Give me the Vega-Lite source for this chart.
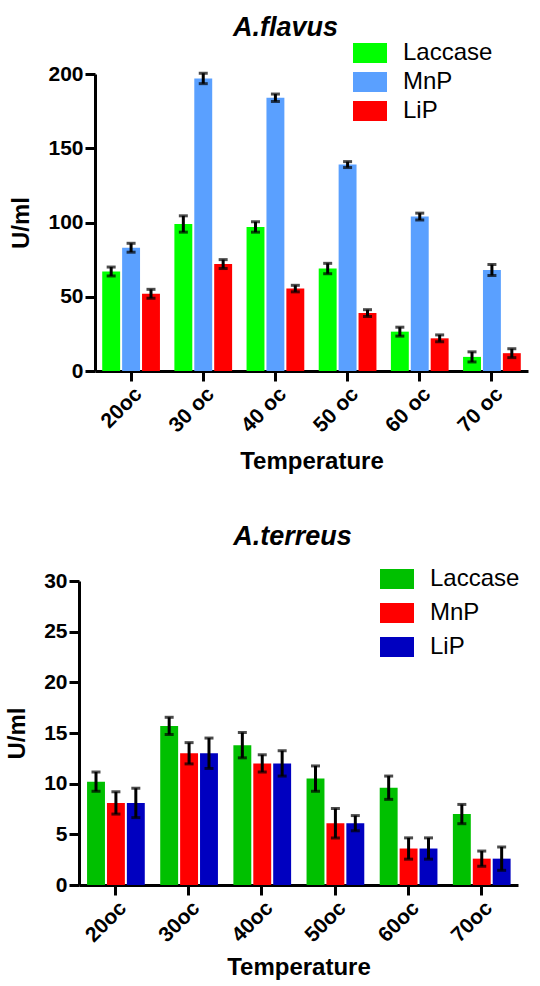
{
  "$schema": "https://vega.github.io/schema/vega-lite/v6.json",
  "padding": {"left": 5, "top": 14, "right": 5, "bottom": 5},
  "config": {
    "font": "Liberation Sans",
    "view": {"stroke": null},
    "axis": {
      "grid": false, "domainColor": "black", "domainWidth": 3, "tickColor": "black", "tickWidth": 3, "tickSize": 10,
      "labelFontSize": 21, "labelFontWeight": "bold", "labelColor": "black", "labelFont": "Liberation Sans",
      "titleFontSize": 24, "titleFontWeight": "bold", "titleColor": "black", "titleFont": "Liberation Sans"
    },
    "legend": {
      "orient": "none", "title": null, "padding": 0,
      "symbolType": "M-1,-0.59H1V0.59H-1Z", "symbolSize": 1156, "symbolStrokeWidth": 0, "symbolOpacity": 1,
      "labelFontSize": 24, "labelFont": "Liberation Sans", "labelColor": "black", "labelOffset": 16
    }
  },
  "datasets": {
    "flavus": [
      {"temp": "20oc", "enzyme": "Laccase", "value": 67, "err": 3},
      {"temp": "20oc", "enzyme": "MnP", "value": 83, "err": 3},
      {"temp": "20oc", "enzyme": "LiP", "value": 52, "err": 3},
      {"temp": "30 oc", "enzyme": "Laccase", "value": 99, "err": 5.5},
      {"temp": "30 oc", "enzyme": "MnP", "value": 197, "err": 3.5},
      {"temp": "30 oc", "enzyme": "LiP", "value": 72, "err": 3},
      {"temp": "40 oc", "enzyme": "Laccase", "value": 97, "err": 3.5},
      {"temp": "40 oc", "enzyme": "MnP", "value": 184, "err": 2.5},
      {"temp": "40 oc", "enzyme": "LiP", "value": 55.5, "err": 2.2},
      {"temp": "50 oc", "enzyme": "Laccase", "value": 69, "err": 3.5},
      {"temp": "50 oc", "enzyme": "MnP", "value": 139, "err": 2},
      {"temp": "50 oc", "enzyme": "LiP", "value": 39, "err": 2.3},
      {"temp": "60 oc", "enzyme": "Laccase", "value": 26.5, "err": 3},
      {"temp": "60 oc", "enzyme": "MnP", "value": 104, "err": 2.3},
      {"temp": "60 oc", "enzyme": "LiP", "value": 22, "err": 2.3},
      {"temp": "70 oc", "enzyme": "Laccase", "value": 9.5, "err": 3.4},
      {"temp": "70 oc", "enzyme": "MnP", "value": 68, "err": 3.7},
      {"temp": "70 oc", "enzyme": "LiP", "value": 12, "err": 3}
    ],
    "terreus": [
      {"temp": "20oc", "enzyme": "Laccase", "value": 10.2, "err": 0.95},
      {"temp": "20oc", "enzyme": "MnP", "value": 8.1, "err": 1.1},
      {"temp": "20oc", "enzyme": "LiP", "value": 8.1, "err": 1.45},
      {"temp": "30oc", "enzyme": "Laccase", "value": 15.7, "err": 0.85},
      {"temp": "30oc", "enzyme": "MnP", "value": 13.0, "err": 1.05},
      {"temp": "30oc", "enzyme": "LiP", "value": 13.0, "err": 1.5},
      {"temp": "40oc", "enzyme": "Laccase", "value": 13.8, "err": 1.25},
      {"temp": "40oc", "enzyme": "MnP", "value": 12.0, "err": 0.85},
      {"temp": "40oc", "enzyme": "LiP", "value": 12.0, "err": 1.25},
      {"temp": "50oc", "enzyme": "Laccase", "value": 10.5, "err": 1.25},
      {"temp": "50oc", "enzyme": "MnP", "value": 6.1, "err": 1.45},
      {"temp": "50oc", "enzyme": "LiP", "value": 6.1, "err": 0.75},
      {"temp": "60oc", "enzyme": "Laccase", "value": 9.6, "err": 1.15},
      {"temp": "60oc", "enzyme": "MnP", "value": 3.6, "err": 1.05},
      {"temp": "60oc", "enzyme": "LiP", "value": 3.6, "err": 1.05},
      {"temp": "70oc", "enzyme": "Laccase", "value": 7.0, "err": 0.95},
      {"temp": "70oc", "enzyme": "MnP", "value": 2.6, "err": 0.75},
      {"temp": "70oc", "enzyme": "LiP", "value": 2.6, "err": 1.15}
    ]
  },
  "vconcat": [
    {
      "data": {"name": "flavus"},
      "title": {"text": "A.flavus", "fontSize": 27, "fontStyle": "italic", "fontWeight": "bold", "font": "Liberation Sans", "color": "black", "frame": "group", "anchor": "middle", "dx": -18, "offset": -6},
      "width": 449, "height": 297,
      "encoding": {
        "x": {"field": "temp", "type": "nominal", "sort": null, "title": "Temperature",
              "scale": {"paddingInner": 0.2, "paddingOuter": 0.1, "range": [16, 449]},
              "axis": {"labelAngle": -45, "titlePadding": 14, "labelPadding": 2}},
        "xOffset": {"field": "enzyme", "type": "nominal", "sort": ["Laccase", "MnP", "LiP"], "scale": {"paddingInner": 0.1}}
      },
      "layer": [
        {
          "mark": {"type": "bar"},
          "encoding": {
            "y": {"field": "value", "type": "quantitative", "title": "U/ml", "scale": {"domain": [0, 200]},
                  "axis": {"values": [0, 50, 100, 150, 200], "labelPadding": 2, "titlePadding": 14, "offset": -16}},
            "color": {"field": "enzyme", "type": "nominal",
                      "scale": {"domain": ["Laccase", "MnP", "LiP"], "range": ["#00FF00", "#5AA0FF", "#FF0000"]},
                      "legend": {"legendX": 274, "legendY": -38, "rowPadding": 0}}
          }
        },
        {
          "mark": {"type": "errorbar", "ticks": true, "color": "black", "thickness": 3, "size": 9},
          "encoding": {
            "y": {"field": "value", "type": "quantitative", "title": "U/ml"},
            "yError": {"field": "err"}
          }
        }
      ]
    },
    {
      "data": {"name": "terreus"},
      "title": {"text": "A.terreus", "fontSize": 27, "fontStyle": "italic", "fontWeight": "bold", "font": "Liberation Sans", "color": "black", "frame": "group", "anchor": "middle", "dx": -6, "offset": 11},
      "width": 439, "height": 304,
      "encoding": {
        "x": {"field": "temp", "type": "nominal", "sort": null, "title": "Temperature",
              "scale": {"paddingInner": 0.22, "paddingOuter": 0.11},
              "axis": {"labelAngle": -45, "titlePadding": 10, "labelPadding": 2}},
        "xOffset": {"field": "enzyme", "type": "nominal", "sort": ["Laccase", "MnP", "LiP"], "scale": {"paddingInner": 0.1}}
      },
      "layer": [
        {
          "mark": {"type": "bar"},
          "encoding": {
            "y": {"field": "value", "type": "quantitative", "title": "U/ml", "scale": {"domain": [0, 30]},
                  "axis": {"values": [0, 5, 10, 15, 20, 25, 30], "labelPadding": 2, "titlePadding": 14}},
            "color": {"field": "enzyme", "type": "nominal",
                      "scale": {"domain": ["Laccase", "MnP", "LiP"], "range": ["#00C000", "#FF0000", "#0000C0"]},
                      "legend": {"legendX": 301, "legendY": -19, "rowPadding": 5}}
          }
        },
        {
          "mark": {"type": "errorbar", "ticks": true, "color": "black", "thickness": 3, "size": 9},
          "encoding": {
            "y": {"field": "value", "type": "quantitative", "title": "U/ml"},
            "yError": {"field": "err"}
          }
        }
      ]
    }
  ],
  "resolve": {"scale": {"color": "independent", "y": "independent", "x": "independent"}, "legend": {"color": "independent"}},
  "spacing": 49
}
